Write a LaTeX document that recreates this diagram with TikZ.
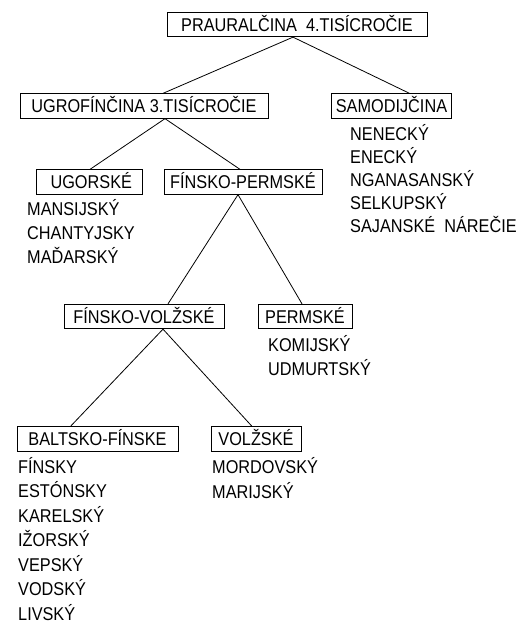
\documentclass[tikz,border=0pt]{standalone}
\usepackage{fontspec}
\setmainfont{Liberation Sans}[FakeStretch=0.88]
\begin{document}
\begin{tikzpicture}[x=1pt,y=-1pt,
  box/.style={draw,line width=0.8pt,inner xsep=4pt,inner ysep=5.5pt,text height=13.5pt,text depth=0pt,font=\fontsize{18.5}{22}\selectfont},
  item/.style={anchor=base west,inner sep=0pt,font=\fontsize{18.5}{22}\selectfont},
  link/.style={line width=0.8pt}]
\useasboundingbox (0,0) rectangle (524,623);
% boxes
\node[box,minimum width=260pt] (pra) at (297,24.5) {PRAURALČINA\ \ 4.TISÍCROČIE};
\node[box,minimum width=248pt] (ugro) at (144,106) {UGROFÍNČINA 3.TISÍCROČIE};
\node[box,minimum width=109pt] (samo) at (391.5,106) {SAMODIJČINA};
\node[box,minimum width=106pt] (ugor) at (89,182) {\ UGORSKÉ};
\node[box,minimum width=158pt] (fp) at (243,182) {FÍNSKO-PERMSKÉ};
\node[box,minimum width=160pt] (fv) at (144,316.5) {FÍNSKO-VOLŽSKÉ};
\node[box,minimum width=94pt] (perm) at (305,316.5) {PERMSKÉ};
\node[box,minimum width=161pt] (bf) at (97.5,439) {BALTSKO-FÍNSKE};
\node[box,minimum width=90pt] (vol) at (256,439) {VOLŽSKÉ};
% connectors
\draw[link] ([xshift=-4pt]pra.south) -- ([xshift=19pt]ugro.north);
\draw[link] ([xshift=-4pt]pra.south) -- ([xshift=18pt]samo.north);
\draw[link] ([xshift=21pt]ugro.south) -- ([xshift=1pt]ugor.north);
\draw[link] ([xshift=21pt]ugro.south) -- ([xshift=-3pt]fp.north);
\draw[link] ([xshift=-5pt]fp.south) -- ([xshift=24pt]fv.north);
\draw[link] ([xshift=-5pt]fp.south) -- ([xshift=-3pt]perm.north);
\draw[link] ([xshift=19pt]fv.south) -- ([xshift=-27pt]bf.north);
\draw[link] ([xshift=19pt]fv.south) -- ([xshift=-4pt]vol.north);
% lists
\foreach \t [count=\i] in {NENECKÝ,ENECKÝ,NGANASANSKÝ,SELKUPSKÝ,SAJANSKÉ\ \ NÁREČIE}
  \node[item] (s\i) at (350,{140+23*(\i-1)}) {\t};
\foreach \t [count=\i] in {MANSIJSKÝ,CHANTYJSKY,MAĎARSKÝ}
  \node[item] (u\i) at (27,{215+24*(\i-1)}) {\t};
\foreach \t [count=\i] in {KOMIJSKÝ,UDMURTSKÝ}
  \node[item] (p\i) at (268,{351+24*(\i-1)}) {\t};
\foreach \t [count=\i] in {MORDOVSKÝ,MARIJSKÝ}
  \node[item] (v\i) at (212,{473+25*(\i-1)}) {\t};
\foreach \t [count=\i] in {FÍNSKY,ESTÓNSKY,KARELSKÝ,IŽORSKÝ,VEPSKÝ,VODSKÝ,LIVSKÝ}
  \node[item] (b\i) at (18,{473+24.5*(\i-1)}) {\t};
\end{tikzpicture}
\end{document}
